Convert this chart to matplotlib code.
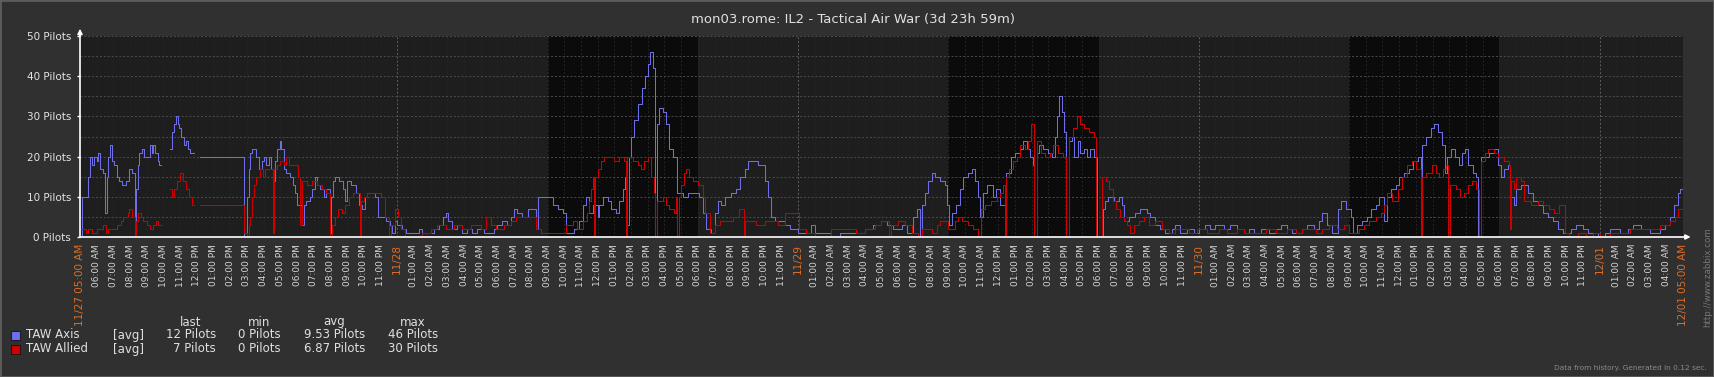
import matplotlib
matplotlib.use("Agg")
import matplotlib.pyplot as plt
from matplotlib.patches import Rectangle
import numpy as np
from datetime import datetime, timedelta

title = "mon03.rome: IL2 - Tactical Air War (3d 23h 59m)"
start = datetime(2011, 11, 27, 5, 0)
span_hours = 96

# (hours after start, pilots) - value holds until the next point, nan = no data
axis_data = [
    (0.0, 0), (0.1, 10), (0.5, 15), (0.6, 20), (0.7, 18), (0.85, 20), (1.0, 19), (1.1, 21),
    (1.2, 17), (1.35, 16), (1.5, 6), (1.6, 15), (1.7, 20), (1.8, 23), (1.9, 19), (2.05, 18),
    (2.2, 15), (2.35, 14), (2.5, 13), (2.75, 14), (2.95, 17), (3.1, 16), (3.28, 0), (3.35, 12),
    (3.45, 18), (3.55, 21), (3.7, 22), (3.85, 20), (4.2, 23), (4.3, 21), (4.4, 23), (4.5, 21),
    (4.65, 19), (4.75, 18), (4.85, np.nan), (5.4, 22), (5.5, 26), (5.6, 28), (5.75, 30),
    (5.85, 28), (5.95, 27), (6.05, 25), (6.2, 23), (6.35, 24), (6.45, 22), (6.6, 21),
    (6.8, np.nan), (7.2, 20), (9.8, 0), (10.0, 10), (10.1, 17), (10.2, 21), (10.3, 22),
    (10.55, 20), (10.7, 17), (10.9, 19), (11.0, 20), (11.15, 18), (11.3, 20), (11.45, 17),
    (11.55, 14), (11.65, 19), (11.8, 22), (11.95, 24), (12.05, 22), (12.2, 17), (12.35, 16),
    (12.55, 15), (12.75, 13), (12.9, 11), (13.0, 8), (13.3, 3), (13.4, 8), (13.55, 9),
    (13.75, 10), (13.9, 12), (14.1, 15), (14.2, 13), (14.4, 12), (14.6, 10), (14.75, 12),
    (14.95, 1), (15.05, 10), (15.15, 14), (15.3, 15), (15.5, 14), (15.75, 12), (15.85, 9),
    (16.0, 14), (16.2, 13), (16.5, 11), (16.7, 8), (16.9, 7), (17.05, 10), (17.2, 11),
    (17.65, 10), (17.85, 5), (18.3, 4), (18.55, 3), (18.7, 1), (18.85, 4), (19.0, 3),
    (19.3, 2), (19.5, 1), (20.3, 2), (20.5, 1), (21.2, 2), (21.5, 3), (21.75, 5), (21.9, 6),
    (22.05, 4), (22.3, 2), (22.6, 3), (22.9, 1), (23.2, 2), (23.5, 1), (23.8, 2), (24.2, 1),
    (24.8, 2), (25.0, 3), (25.3, 4), (25.6, 3), (25.8, 5), (26.0, 7), (26.2, 6), (26.5, 5),
    (26.8, 7), (27.3, 2), (27.4, 10), (28.3, 8), (28.6, 7), (28.9, 6), (29.1, 1), (29.6, 2),
    (29.9, 4), (30.1, 8), (30.3, 10), (30.5, 6), (30.7, 8), (31.0, 5), (31.1, 8), (31.35, 10),
    (31.6, 9), (31.8, 7), (32.1, 6), (32.3, 9), (32.5, 12), (32.65, 15), (32.78, 3),
    (32.85, 20), (33.0, 25), (33.2, 29), (33.4, 33), (33.65, 37), (33.85, 40), (34.0, 43),
    (34.15, 46), (34.3, 42), (34.45, 0), (34.55, 28), (34.65, 32), (34.9, 31), (35.1, 28),
    (35.3, 22), (35.5, 20), (35.75, 11), (36.1, 10), (36.4, 11), (37.1, 10), (37.3, 6),
    (37.5, 2), (37.8, 1), (38.0, 6), (38.2, 9), (38.4, 8), (38.6, 10), (39.0, 11), (39.3, 12),
    (39.5, 15), (39.8, 17), (40.0, 19), (40.6, 18), (41.0, 14), (41.2, 10), (41.4, 5),
    (41.6, 4), (42.2, 3), (42.5, 2), (43.0, 1), (43.8, 3), (44.0, 1), (45.0, 0), (45.5, 1),
    (47.0, 2), (47.5, 3), (48.0, 4), (48.3, 3), (48.7, 2), (49.2, 3), (49.5, 1), (49.9, 5),
    (50.1, 7), (50.3, 0), (50.4, 8), (50.6, 11), (50.8, 14), (51.0, 16), (51.2, 15),
    (51.5, 14), (51.8, 13), (51.9, 8), (52.05, 3), (52.2, 6), (52.45, 8), (52.7, 12),
    (52.9, 15), (53.2, 16), (53.4, 17), (53.6, 14), (53.75, 10), (53.9, 5), (54.05, 11),
    (54.3, 13), (54.65, 10), (54.85, 12), (55.1, 8), (55.45, 16), (55.75, 20), (56.0, 21),
    (56.3, 22), (56.5, 24), (56.7, 22), (56.9, 20), (57.05, 18), (57.15, 0), (57.3, 21),
    (57.45, 23), (57.7, 22), (57.95, 21), (58.2, 20), (58.4, 25), (58.5, 30), (58.65, 35),
    (58.8, 31), (58.95, 26), (59.05, 0), (59.2, 24), (59.4, 25), (59.55, 20), (59.75, 24),
    (59.9, 21), (60.1, 22), (60.3, 20), (60.5, 22), (60.7, 20), (60.88, 0), (61.25, 7),
    (61.4, 9), (61.55, 10), (61.9, 9), (62.2, 10), (62.4, 8), (62.5, 4), (62.8, 5), (63.2, 6),
    (63.5, 7), (63.9, 6), (64.1, 5), (64.4, 3), (64.7, 2), (65.0, 1), (65.4, 2), (65.6, 3),
    (65.9, 1), (66.3, 2), (66.7, 1), (67.0, 2), (67.4, 3), (67.7, 2), (68.0, 3), (68.5, 2),
    (68.9, 3), (69.3, 2), (69.7, 1), (70.0, 2), (70.3, 1), (70.7, 2), (71.2, 1), (71.6, 2),
    (71.9, 3), (72.3, 2), (72.6, 1), (73.2, 2), (73.5, 3), (73.9, 2), (74.2, 4), (74.4, 6),
    (74.7, 3), (75.0, 1), (75.35, 7), (75.5, 9), (75.8, 7), (76.1, 5), (76.25, 1), (76.5, 3),
    (76.8, 4), (77.1, 5), (77.3, 7), (77.6, 8), (77.8, 10), (78.1, 4), (78.3, 10), (78.5, 12),
    (78.8, 13), (79.0, 15), (79.3, 16), (79.6, 17), (79.85, 19), (80.1, 20), (80.28, 0),
    (80.38, 23), (80.6, 25), (80.9, 27), (81.1, 28), (81.35, 26), (81.55, 23), (81.75, 16),
    (81.85, 20), (82.1, 22), (82.35, 20), (82.6, 18), (82.75, 21), (82.95, 22), (83.15, 18),
    (83.4, 16), (83.6, 15), (83.75, 0), (83.9, 20), (84.4, 21), (84.7, 22), (84.95, 18),
    (85.1, 15), (85.3, 17), (85.5, 18), (85.65, 10), (85.85, 8), (86.0, 12), (86.3, 13),
    (86.7, 11), (87.0, 9), (87.3, 8), (87.6, 6), (87.9, 5), (88.2, 4), (88.5, 2), (88.8, 1),
    (89.3, 2), (89.6, 3), (90.0, 2), (90.3, 1), (90.9, 0), (91.3, 1), (91.6, 2), (92.2, 1),
    (92.7, 2), (93.0, 3), (93.5, 2), (94.0, 1), (94.6, 2), (94.9, 3), (95.2, 5), (95.45, 8),
    (95.7, 11), (95.85, 12), (96.0, 12),
]

allied_data = [
    (0.0, 2), (0.35, 1), (0.5, 2), (0.7, 1), (1.0, 2), (1.4, 3), (1.55, 1), (1.7, 2),
    (2.2, 3), (2.45, 4), (2.6, 5), (2.85, 6), (2.95, 7), (3.1, 5), (3.28, 0), (3.35, 4),
    (3.5, 6), (3.65, 5), (3.8, 4), (4.0, 3), (4.2, 2), (4.4, 3), (4.55, 4), (4.7, 3),
    (4.85, np.nan), (5.4, 12), (5.5, 10), (5.6, 12), (5.8, 14), (6.0, 16), (6.15, 14),
    (6.35, 12), (6.55, 10), (6.7, 8), (6.8, np.nan), (7.2, 8), (9.8, 1), (10.0, 0), (10.1, 3),
    (10.2, 5), (10.3, 10), (10.4, 13), (10.55, 15), (10.75, 17), (10.95, 15), (11.1, 17),
    (11.55, 1), (11.62, 17), (11.8, 18), (11.95, 19), (12.2, 18), (12.35, 20), (12.5, 18),
    (13.05, 15), (13.2, 3), (13.3, 14), (13.6, 13), (13.9, 14), (14.2, 13), (14.5, 12),
    (14.75, 11), (14.95, 0), (15.1, 3), (15.25, 5), (15.45, 7), (15.7, 6), (15.9, 8),
    (16.1, 10), (16.35, 11), (16.75, 0), (16.82, 9), (17.0, 10), (17.2, 11), (18.05, 10),
    (18.25, 5), (18.5, 0), (18.65, 3), (18.85, 7), (19.05, 5), (19.25, 2), (19.45, 0),
    (20.5, 1), (21.0, 2), (21.4, 3), (21.9, 2), (22.4, 3), (22.9, 2), (23.4, 3), (24.0, 2),
    (24.3, 5), (24.6, 3), (24.9, 2), (25.4, 3), (25.8, 4), (26.1, 5), (27.3, 2), (27.6, 1),
    (29.1, 3), (29.5, 4), (29.75, 2), (30.15, 4), (30.35, 6), (30.5, 9), (30.6, 12),
    (30.7, 15), (30.78, 0), (30.85, 15), (31.0, 17), (31.2, 19), (31.4, 20), (32.0, 19),
    (32.3, 20), (32.6, 19), (32.68, 0), (32.78, 20), (33.1, 19), (33.4, 18), (33.6, 17),
    (33.8, 19), (34.0, 20), (34.2, 15), (34.35, 11), (34.45, 0), (34.55, 9), (34.9, 10),
    (35.1, 8), (35.3, 7), (35.6, 6), (35.7, 10), (35.78, 0), (35.85, 10), (36.0, 13),
    (36.15, 16), (36.3, 17), (36.5, 15), (36.7, 14), (37.0, 13), (37.3, 10), (37.45, 6),
    (37.75, 1), (38.0, 3), (38.3, 4), (39.1, 5), (39.45, 7), (39.75, 0), (39.85, 4),
    (40.5, 3), (41.0, 4), (41.8, 3), (42.2, 6), (43.05, 2), (43.5, 1), (44.0, 0), (45.0, 2),
    (46.5, 1), (47.0, 2), (47.6, 3), (48.0, 4), (48.45, 0), (48.55, 3), (49.0, 4), (49.4, 3),
    (49.8, 1), (50.2, 0), (50.4, 2), (51.0, 1), (51.35, 3), (51.5, 4), (52.0, 2), (52.4, 4),
    (52.6, 5), (52.85, 4), (53.2, 3), (53.5, 2), (53.8, 0), (53.95, 7), (54.2, 8), (54.55, 9),
    (54.9, 10), (55.1, 11), (55.25, 13), (55.38, 0), (55.45, 15), (55.65, 17), (55.85, 19),
    (56.1, 20), (56.3, 23), (56.6, 22), (56.8, 24), (56.95, 28), (57.15, 0), (57.3, 24),
    (57.55, 21), (57.8, 20), (58.1, 21), (58.3, 23), (58.6, 21), (58.85, 20), (59.05, 0),
    (59.2, 25), (59.45, 27), (59.7, 30), (59.9, 28), (60.1, 27), (60.4, 26), (60.7, 25),
    (60.85, 0), (61.2, 15), (61.45, 14), (61.65, 12), (61.85, 9), (62.05, 7), (62.3, 5),
    (62.5, 4), (62.7, 3), (62.9, 1), (63.15, 3), (63.45, 4), (63.75, 5), (64.0, 3), (64.4, 4),
    (64.8, 2), (65.2, 1), (65.6, 2), (66.4, 1), (66.9, 2), (67.5, 1), (68.2, 2), (68.7, 1),
    (69.3, 2), (69.7, 1), (71.0, 2), (71.6, 1), (72.3, 2), (72.8, 1), (73.2, 2), (74.0, 1),
    (74.4, 2), (74.8, 3), (75.3, 2), (75.7, 3), (76.0, 1), (76.6, 2), (76.9, 3), (77.2, 4),
    (77.6, 5), (77.9, 6), (78.1, 8), (78.25, 11), (78.6, 9), (78.95, 12), (79.2, 15),
    (79.5, 18), (79.75, 19), (80.0, 17), (80.28, 0), (80.36, 15), (80.6, 16), (80.95, 18),
    (81.2, 16), (81.4, 15), (81.6, 17), (81.8, 18), (81.95, 0), (82.05, 13), (82.4, 12),
    (82.65, 10), (82.9, 11), (83.1, 13), (83.35, 14), (83.6, 12), (83.78, 0), (83.9, 19),
    (84.15, 21), (84.35, 22), (84.7, 21), (84.95, 20), (85.3, 19), (85.55, 18), (85.65, 2),
    (85.72, 14), (85.85, 12), (86.0, 15), (86.3, 14), (86.5, 9), (86.9, 8), (87.3, 9),
    (87.6, 8), (88.0, 7), (88.3, 6), (88.55, 8), (88.95, 1), (89.2, 0), (89.7, 1), (90.2, 0),
    (90.6, 1), (91.0, 0), (91.6, 1), (92.8, 2), (94.6, 3), (95.2, 4), (95.5, 5), (95.7, 7),
    (96.0, 7),
]

series_names = ["TAW Axis", "TAW Allied"]
series_colors = ["#6e6eea", "#d00000"]
legend_cols = ["last", "min", "avg", "max"]
legend_values = [
    ["12 Pilots", "0 Pilots", "9.53 Pilots", "46 Pilots"],
    ["7 Pilots", "0 Pilots", "6.87 Pilots", "30 Pilots"],
]
y_ticks = [0, 10, 20, 30, 40, 50]

W, H = 1714, 377
bg = "#303030"
orange = "#dc6e28"

def fx(x):
    return x / W

def fy(y):
    return 1 - y / H

fig = plt.figure(figsize=(W / 100, H / 100), dpi=100, facecolor=bg)
ax = fig.add_axes([fx(80), fy(237), fx(1683) - fx(80), fy(36) - fy(237)])
ax.set_facecolor("#1e1e1e")
ax.set_xlim(0, span_hours)
ax.set_ylim(0, 50)

# working time (Mon-Fri 09:00-18:00) darker
day0 = start.replace(hour=0)
for d in range(5):
    day = day0 + timedelta(days=d)
    if day.weekday() < 5:
        a = (day + timedelta(hours=9) - start).total_seconds() / 3600
        b = (day + timedelta(hours=18) - start).total_seconds() / 3600
        a, b = max(a, 0), min(b, span_hours)
        if b > a:
            ax.axvspan(a, b, color="#0b0b0b", lw=0, zorder=0)

# hourly / daily vertical grid
hours = np.arange(1, span_hours)
midnights = [h for h in hours if (start + timedelta(hours=int(h))).hour == 0]
for h in hours:
    if h in midnights:
        ax.axvline(h, color="#5e5e5e", lw=0.7, ls=(0, (2, 2)), zorder=1)
    else:
        ax.axvline(h, color="#252525", lw=0.7, ls=(0, (2, 2)), zorder=1)
for y in range(5, 51, 5):
    ax.axhline(y, color="#4c4c4c", lw=0.7, ls=(0, (2, 2)), zorder=1)

for data, col in zip([axis_data, allied_data], series_colors):
    t, v = zip(*data)
    ax.step(t, v, where="post", color=col, lw=0.75, zorder=3)

for s in ["top", "right"]:
    ax.spines[s].set_visible(False)
for s in ["left", "bottom"]:
    ax.spines[s].set_color("white")
    ax.spines[s].set_linewidth(1.2)
    ax.spines[s].set_zorder(4)
ax.annotate("", xy=(0, 1.05), xytext=(0, 0.99), xycoords="axes fraction",
            arrowprops=dict(arrowstyle="-|>", color="white", lw=1.2, mutation_scale=7))
ax.annotate("", xy=(1.0065, 0), xytext=(0.999, 0), xycoords="axes fraction",
            arrowprops=dict(arrowstyle="-|>", color="white", lw=1.2, mutation_scale=7))

ax.set_yticks(y_ticks, [f"{v} Pilots" for v in y_ticks])
ax.tick_params(axis="y", colors="white", length=2.5, width=1, pad=4, labelsize=7.5,
               labelcolor="#e4e4e4")

xt = list(range(0, span_hours + 1))
xl = []
for h in xt:
    tm = start + timedelta(hours=h)
    if h == 0 or h == span_hours:
        xl.append(tm.strftime("%m/%d %I:%M %p"))
    elif tm.hour == 0:
        xl.append(tm.strftime("%m/%d"))
    else:
        xl.append(tm.strftime("%I:%M %p"))
ax.set_xticks(xt, xl, rotation=90)
ax.tick_params(axis="x", length=0, pad=5, labelsize=6.5, labelcolor="#d6d6d6")
for h, lab in zip(xt, ax.get_xticklabels()):
    if h == 0 or h == span_hours or h in midnights:
        lab.set_color(orange)
        lab.set_fontsize(7.5)

fig.text(fx(853), fy(19), title, ha="center", va="center", fontsize=9.5, color="#e0e0e0")

# legend table
col_center = [191, 259, 334, 413]
col_right = [216, 281, 365, 438]
for c, name in zip(col_center, legend_cols):
    fig.text(fx(c), fy(322), name, ha="center", va="center", fontsize=8.5, color="#e0e0e0")
for i, (name, col) in enumerate(zip(series_names, series_colors)):
    y = 335 + 14 * i
    fig.patches.append(Rectangle((fx(11), fy(y + 4.5)), fx(9), 9 / H, transform=fig.transFigure,
                                 facecolor=col, edgecolor="#111111", lw=0.6))
    fig.text(fx(26), fy(y), name, ha="left", va="center", fontsize=8.5, color="#e0e0e0")
    fig.text(fx(113), fy(y), "[avg]", ha="left", va="center", fontsize=8.5, color="#e0e0e0")
    for r, val in zip(col_right, legend_values[i]):
        fig.text(fx(r), fy(y), val, ha="right", va="center", fontsize=8.5, color="#e0e0e0")

fig.text(fx(1708), fy(327), "http://www.zabbix.com", rotation=90, ha="center", va="bottom",
         fontsize=6.3, color="#787878")
fig.text(fx(1707), fy(368), "Data from history. Generated in 0.12 sec.", ha="right",
         va="center", fontsize=5.3, color="#8a8a8a")

fig.patches.append(Rectangle((0, 0), 1, 1, transform=fig.transFigure, fill=False,
                             edgecolor="#5c5c5c", lw=2))

fig.savefig("out.png", dpi=100, facecolor=bg)
